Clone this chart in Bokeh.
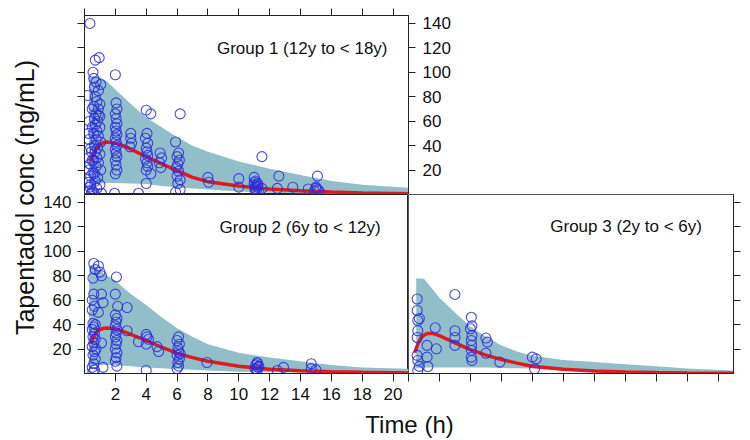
import numpy as np
from bokeh.plotting import figure
from bokeh.models import Range1d, LinearAxis, FixedTicker, Label
from bokeh.layouts import column, row
from bokeh.embed import file_html
from bokeh.resources import INLINE

# ---------------- data ----------------
x_ticks = [0, 2, 4, 6, 8, 10, 12, 14, 16, 18, 20]
x_label_ticks = [2, 4, 6, 8, 10, 12, 14, 16, 18, 20]
y_ticks = [20, 40, 60, 80, 100, 120, 140]
x_title = "Time (h)"
y_title = "Tapentadol conc (ng/mL)"
group_labels = ["Group 1 (12y to < 18y)", "Group 2 (6y to < 12y)", "Group 3 (2y to < 6y)"]

# Group 1 observed
g1_t = [0.35, 0.2, 0.3, 0.25, 0.3, 0.4, 0.25, 0.35, 0.3, 0.4, 0.25, 0.35, 0.3, 0.45, 0.5, 0.5, 0.45, 0.5, 0.4, 0.55, 0.5,
        0.7, 0.95, 0.55, 0.6, 0.75, 0.65, 0.9, 0.7, 0.8, 1.0, 0.6, 0.9, 0.75, 1.0, 0.65, 0.85, 0.7, 1.0, 0.8, 0.6, 0.9,
        0.75, 1.05, 0.65, 0.85, 0.7, 1.0, 0.8, 0.6, 0.9, 0.75, 1.05, 0.65, 0.85, 0.7, 1.0, 0.8, 0.6, 1.1, 0.9, 1.05,
        2.0, 2.05, 2.1, 2.0, 2.05, 2.1, 2.0, 2.05, 2.1, 2.0, 2.05, 2.1, 2.0, 2.05, 2.1, 2.0, 2.05, 2.1, 2.0, 1.95,
        3.0, 3.0, 3.05, 2.95, 3.5,
        4.0, 4.3, 4.05, 3.95, 4.1, 4.0, 4.05, 4.1, 3.95, 4.05, 4.1, 4.0, 4.0, 4.3,
        4.9, 5.0, 4.85, 4.95,
        6.2, 5.9, 6.1, 6.0, 6.15, 6.05, 5.95, 6.1, 6.0, 6.2, 6.05, 5.9, 6.2,
        8.0, 8.05, 10.0, 10.0, 11.0, 11.1, 11.0, 11.2, 11.05, 11.3, 11.5, 11.5, 11.0, 11.1, 11.2, 11.05, 11.15, 11.25,
        12.6, 12.5, 13.5, 14.5, 15.1, 15.0, 15.2, 15.0, 15.1, 14.9]
g1_c = [140, 81, 60, 50, 45, 38, 30, 25, 20, 15, 10, 6, 3, 1, 70, 55, 35, 28, 8, 18, 2,
        110, 112, 100, 95, 92, 88, 85, 80, 76, 74, 72, 70, 66, 64, 62, 60, 57, 55, 52, 50, 48,
        45, 43, 40, 38, 35, 33, 30, 28, 26, 23, 20, 17, 14, 11, 8, 5, 2, 1, 65, 90,
        98, 75, 70, 66, 62, 58, 55, 52, 49, 46, 43, 40, 37, 34, 31, 28, 24, 20, 17, 1,
        50, 46, 42, 39, 1,
        69, 66, 50, 46, 42, 38, 35, 32, 29, 26, 23, 20, 9, 17,
        34, 30, 26, 22,
        66, 43, 34, 31, 28, 25, 22, 19, 15, 12, 9, 2, 4,
        14, 10, 13, 6, 14, 11, 8, 6, 4, 2, 31, 5, 10, 7, 9, 5, 3, 8,
        15, 5, 6, 4.5, 15, 5, 3, 6, 4, 3]

# Group 2 observed
g2_t = [0.6, 0.9, 0.7, 1.0, 1.1, 0.55, 0.6, 1.1, 0.5, 1.2, 0.65, 0.5, 0.9, 0.55, 0.7, 0.6, 0.5, 0.65, 0.55, 0.7,
        0.6, 0.5, 1.1, 0.65, 0.55, 0.7, 0.6, 0.5, 0.65, 0.55, 1.2, 0.75,
        2.07, 2.0, 2.15, 2.0, 2.1, 2.05, 2.0, 2.1, 2.05, 2.0, 2.1, 2.05, 2.0, 2.1, 2.05, 2.0, 2.1, 2.76, 2.76,
        3.5, 4.0, 4.15, 4.05, 4.0, 4.7, 4.8, 4.0,
        6.1, 6.0, 6.15, 6.05, 6.1, 6.0, 6.15, 6.05, 6.1, 6.0, 6.2,
        7.94, 11.2, 11.1, 11.25, 11.15, 11.2, 11.3, 11.05, 11.2,
        12.9, 12.5, 14.7, 14.7, 15.0]
g2_c = [90, 88, 85, 83, 80, 78, 65, 65, 60, 58, 55, 52, 50, 41, 40, 38, 36, 33, 30, 28,
        25, 22, 25, 18, 15, 12, 8, 5, 3, 1, 5, 20,
        79, 65, 55, 48, 45, 42, 39, 36, 33, 30, 27, 24, 20, 17, 13, 10, 6, 54, 35,
        26, 32, 28, 30, 24, 22, 18, 2.5,
        30, 27, 24, 21, 18, 15, 12, 9, 6, 4, 16,
        9, 9, 7, 5, 3.5, 2.5, 6, 4, 8,
        5, 2.5, 8, 4, 3]

# Group 3 observed
g3_t = [0.56, 0.56, 0.7, 0.6, 0.6, 0.56, 0.56, 0.6, 0.7, 0.6, 1.2, 1.2, 1.25, 1.73, 1.8,
        3.0, 3.0, 3.0, 3.0,
        4.06, 4.1, 4.0, 4.1, 4.06, 4.08, 4.06, 4.06, 4.1,
        5.0, 5.1, 5.0, 5.9, 8.0, 8.25, 8.15]
g3_c = [61, 51.6, 45, 43.4, 35, 29.5, 14.8, 10.7, 5.8, 2.5, 23, 13.4, 5.7, 37.4, 20.2,
        64.7, 35, 29.5, 23,
        46, 39, 36.6, 31, 27, 23, 19, 13.4, 10.7,
        29, 25.7, 16.6, 9.3, 13.4, 12, 3.8]

# Model-predicted median
fit_t = [0.4, 0.6, 0.8, 1.0, 1.25, 1.5, 2, 2.5, 3, 4, 5, 6, 7, 8, 10, 12, 14, 16, 18, 21]
g1_fit = [27, 34, 38.5, 41, 42.5, 43, 42, 40, 37, 31, 25, 19.5, 14, 10.5, 7, 4.5, 3, 2, 1.3, 0.7]
g2_fit = [24, 30, 34, 36, 37, 37.2, 36.5, 34.5, 32, 27, 21.5, 16.5, 13, 10, 6, 3.5, 2.3, 1.5, 1, 0.5]
g3_fit = [17, 24, 29, 31.5, 32.8, 33, 31, 28, 25, 19.5, 15, 11.5, 8.5, 6, 3.5, 2, 1.2, 0.8, 0.5, 0.3]

# Prediction interval
band_t = [0.3, 0.6, 1.0, 1.5, 2, 3, 4, 5, 6, 7, 8, 10, 12, 14, 16, 18, 21]
g1_hi = [96, 96, 96, 92, 86, 74, 63, 55, 47, 40, 35, 27, 21, 16, 11, 8, 5.5]
g1_lo = [5, 8, 9, 9.5, 9.5, 9, 8.5, 7, 6, 5, 4, 2.5, 1.5, 1, 0.7, 0.5, 0.4]
g2_hi = [88, 88.5, 84, 80, 76, 65, 56, 46, 37, 30, 24, 17, 13, 10, 7, 5, 3.8]
g2_lo = [4, 6.5, 7, 7, 7, 6, 5, 4.2, 3.5, 3, 2.5, 1.5, 1, 0.8, 0.6, 0.4, 0.3]
g3_band_t = [0.5, 1.0, 2, 3, 4, 5, 6, 7, 8, 10, 12, 14, 16, 18, 21]
g3_hi = [78, 77.5, 62, 50, 38.5, 30, 23, 18, 14.5, 11, 9.5, 7.5, 6, 4, 2.5]
g3_lo = [4, 5, 5, 5, 5, 5, 4.5, 4.2, 4, 2.5, 1.5, 1, 0.8, 0.6, 0.5]

# ---------------- style ----------------
FONT = "Liberation Sans"
INK = "#222222"
BAND = "#92BECA"
RED = "#E01B1B"
BLUE = "#2A2AE0"


def style_axis(ax, ticks, show_labels):
    ax.ticker = FixedTicker(ticks=ticks)
    ax.major_tick_in = 0
    ax.major_tick_out = 7
    ax.minor_tick_line_color = None
    ax.axis_line_color = INK
    ax.major_tick_line_color = INK
    if show_labels:
        ax.major_label_text_font = FONT
        ax.major_label_text_font_size = "17px"
        ax.major_label_text_color = "#111111"
        ax.major_label_standoff = 6
    else:
        ax.major_label_text_font_size = "0px"
        ax.major_label_text_color = None
        ax.major_label_standoff = 0


def make_panel(width, height, mbl, mbr, mbt, mbb, xloc, yloc):
    p = figure(width=width, height=height, x_range=Range1d(0, 21), y_range=Range1d(0, 146.5),
               output_backend="svg", toolbar_location=None,
               x_axis_location=xloc, y_axis_location=yloc,
               min_border_left=mbl, min_border_right=mbr, min_border_top=mbt, min_border_bottom=mbb)
    p.xgrid.grid_line_color = None
    p.ygrid.grid_line_color = None
    p.outline_line_color = INK
    p.outline_line_width = 1
    p.background_fill_color = "white"
    p.border_fill_color = "white"
    return p


def draw(p, bt, lo, hi, ft, fc, ot, oc, label, lx, ly):
    p.varea(x=bt, y1=lo, y2=hi, fill_color=BAND, fill_alpha=1.0)
    p.line(x=ft, y=fc, line_color=RED, line_width=3.5)
    p.scatter(x=ot, y=oc, marker="circle", size=10, fill_color=None,
              line_color=BLUE, line_width=1.1, line_alpha=0.85)
    p.add_layout(Label(x=lx, y=ly, text=label, text_align="right", text_baseline="middle",
                       text_font=FONT, text_font_size="17px", text_color="#111111"))


# Panel 1 (top-left): frame x 84..408, y 15..194
p1 = make_panel(701, 194, 44, 333, 15, 0, "above", "right")
style_axis(p1.xaxis[0], x_ticks, False)
style_axis(p1.yaxis[0], y_ticks, True)
p1.yaxis[0].major_label_standoff = 7
left1 = LinearAxis()
style_axis(left1, y_ticks, False)
p1.add_layout(left1, "left")
draw(p1, band_t, g1_lo, g1_hi, fit_t, g1_fit, g1_t, g1_c, group_labels[0], 19.64, 119.5)

# Panel 2 (bottom-left): frame x 84..408, y 194..373
p2 = make_panel(368, 211, 44, 0, 0, 32, "below", "left")
style_axis(p2.xaxis[0], x_label_ticks, True)
p2.xaxis[0].major_tick_out = 8
p2.xaxis[0].major_label_standoff = 6
style_axis(p2.yaxis[0], y_ticks, True)
draw(p2, band_t, g2_lo, g2_hi, fit_t, g2_fit, g2_t, g2_c, group_labels[1], 19.2, 119.1)

# Panel 3 (bottom-right): frame x 408..733, y 194..373
p3 = make_panel(333, 211, 0, 8, 0, 32, "below", "right")
style_axis(p3.xaxis[0], x_ticks, False)
p3.xaxis[0].major_tick_out = 8
style_axis(p3.yaxis[0], y_ticks, False)
p3.outline_line_color = "#555555"
draw(p3, g3_band_t, g3_lo, g3_hi, fit_t, g3_fit, g3_t, g3_c, group_labels[2], 18.96, 120)


def blank(width, height):
    f = figure(width=width, height=height, x_range=Range1d(0, width), y_range=Range1d(0, height),
               output_backend="svg", toolbar_location=None,
               x_axis_location=None, y_axis_location=None,
               min_border_left=0, min_border_right=0, min_border_top=0, min_border_bottom=0)
    f.xgrid.grid_line_color = None
    f.ygrid.grid_line_color = None
    f.outline_line_color = None
    return f


ytitle = blank(40, 405)
ytitle.add_layout(Label(x=24, y=208, x_units="screen", y_units="screen", text=y_title,
                        angle=np.pi / 2, text_align="center", text_baseline="middle",
                        text_font=FONT, text_font_size="25px", text_color="#111111"))

xtitle = blank(741, 33)
xtitle.add_layout(Label(x=409, y=14, x_units="screen", y_units="screen", text=x_title,
                        text_align="center", text_baseline="middle",
                        text_font=FONT, text_font_size="24px", text_color="#111111"))

layout = column(row(ytitle, column(p1, row(p2, p3))), xtitle)

open("out.html", "w").write(file_html(layout, INLINE))
